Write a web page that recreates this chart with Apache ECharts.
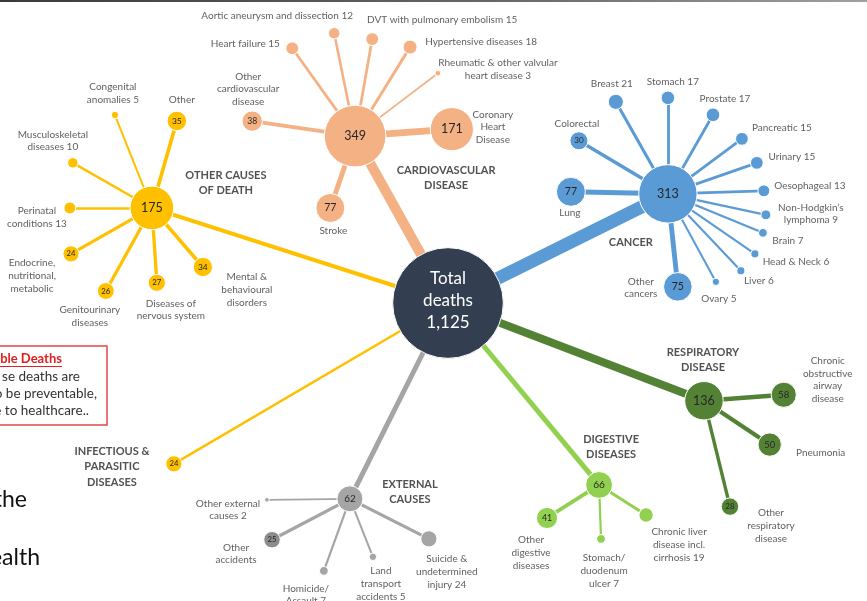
<!DOCTYPE html>
<html><head><meta charset="utf-8">
<script src="https://cdn.jsdelivr.net/npm/echarts@6/dist/echarts.min.js"></script>
<style>html,body{margin:0;padding:0;background:#fff}#c{width:867px;height:601px}</style>
</head><body><div id="c"></div>
<script>
// ================= DATA =================
const rootLabel = 'Total\ndeaths';
const totalDeaths = 1125;

const groupNames = ['CARDIOVASCULAR\nDISEASE', 'CANCER', 'OTHER CAUSES\nOF DEATH', 'INFECTIOUS &\nPARASITIC\nDISEASES', 'EXTERNAL\nCAUSES', 'DIGESTIVE\nDISEASES', 'RESPIRATORY\nDISEASE'];
const groupValues = [349, 313, 175, 24, 62, 66, 136];

const cardioNames = ['Coronary\nHeart\nDisease', 'Stroke', 'Other\ncardiovascular\ndisease', 'Heart failure', 'Aortic aneurysm and dissection', 'DVT with pulmonary embolism', 'Hypertensive diseases', 'Rheumatic & other valvular\nheart disease'];
const cardioValues = [171, 77, 38, 15, 12, 15, 18, 3];

const cancerNames = ['Colorectal', 'Lung', 'Breast', 'Stomach', 'Prostate', 'Pancreatic', 'Urinary', 'Oesophageal', 'Non-Hodgkin\u2019s\nlymphoma', 'Brain', 'Head & Neck', 'Liver', 'Ovary', 'Other\ncancers'];
const cancerValues = [30, 77, 21, 17, 17, 15, 15, 13, 9, 7, 6, 6, 5, 75];

const otherNames = ['Other', 'Congenital\nanomalies', 'Musculoskeletal\ndiseases', 'Perinatal\nconditions', 'Endocrine,\nnutritional,\nmetabolic', 'Genitourinary\ndiseases', 'Diseases of\nnervous system', 'Mental &\nbehavioural\ndisorders'];
const otherValues = [35, 5, 10, 13, 24, 26, 27, 34];

const infectiousNames = [];
const infectiousValues = [];

const externalNames = ['Other external\ncauses', 'Other\naccidents', 'Homicide/\nAssault', 'Land\ntransport\naccidents', 'Suicide &\nundetermined\ninjury'];
const externalValues = [2, 25, 7, 5, 24];

const digestiveNames = ['Other\ndigestive\ndiseases', 'Stomach/\nduodenum\nulcer', 'Chronic liver\ndisease incl.\ncirrhosis'];
const digestiveValues = [41, 7, 19];

const respiratoryNames = ['Chronic\nobstructive\nairway\ndisease', 'Pneumonia', 'Other\nrespiratory\ndisease'];
const respiratoryValues = [58, 50, 28];

// ================= LAYOUT / STYLE =================
const W = 867, H = 601;
const ROOT_POS = [448, 303];
const GROUP_COLORS = ['#F4B183', '#5B9BD5', '#FFC000', '#FFC000', '#A5A5A5', '#92D050', '#548235'];
// hub: angle (deg, ccw from east), radius (px), edge width, heading offset
const HUB_LAYOUT = [
  [119.1, 191, 10, [91, 42]],
  [26.4, 245.5, 13, [-37, 49]],
  [162.2, 311, 4, [74, -25]],
  [-149.6, 317.8, 2.5, [-62, 3]],
  [-116.6, 219, 5, [60, -7]],
  [-50.3, 236.5, 5, [12, -38]],
  [-20.9, 274, 8, [-1, -41]]
];
// child: angle, radius, label offset, value shown inside node (1) or appended to label (0), optional colour
const CHILD_LAYOUT = [
  [[4.1, 97, [41, -2], 1], [-109, 76, [3, 23], 1], [171.7, 104, [-4, -32], 1], [125.6, 108, [-47, -5], 0], [101.5, 105, [-57, -17], 0], [80, 98.5, [70, -19], 0], [58.3, 104.6, [71, -5], 0], [37.2, 104, [60, -4], 0]],
  [[149.2, 103.6, [-2, -17], 1], [178.8, 97, [-1, 21], 1], [119.5, 105.7, [-4, -18], 0], [90, 96, [5, -16], 0], [60.3, 91, [12, -16], 0], [36.6, 92.2, [40, -11], 0], [19.2, 94.2, [35, -6], 0], [1.8, 96, [46, -5], 0], [-12.1, 100.2, [45, -1], 0], [-22.3, 102.7, [25, 8], 0], [-34.6, 105.7, [41, 8], 0], [-46.5, 106, [18, 10], 0], [-61.4, 100.2, [3, 17], 0], [-83.9, 93.5, [-37, 1], 1]],
  [[74, 90.5, [5, -21], 1], [111.7, 100, [-2, -22], 0], [150.3, 91, [-20, -22], 0], [180, 82, [-33, 9], 0], [-150.4, 93, [-39, 22], 1], [-119, 95, [-16, 25], 1], [-86.2, 75, [14, 27], 1], [-49.2, 78, [44, 23], 1]],
  [],
  [[-179.3, 83, [-39, 10], 0], [-152.3, 88, [-36, 14], 1, '#8C8C8C'], [-109.9, 76.6, [-18, 24], 0], [-68.4, 62.4, [8, 27], 0], [-26.9, 88.5, [18, 33], 0]],
  [[-147.6, 61.6, [-16, 35], 1], [-87.9, 54, [3, 32], 0], [-32.6, 55.8, [33, 30], 0]],
  [[4.3, 80, [44, -15], 1], [-33.7, 79, [51, 8], 1], [-76.2, 109, [41, 19], 1]]
];
const FONT = 'Lato, "Noto Sans", sans-serif';
const TXT = '#363636';

const groupChildren = [
  [cardioNames, cardioValues],
  [cancerNames, cancerValues],
  [otherNames, otherValues],
  [infectiousNames, infectiousValues],
  [externalNames, externalValues],
  [digestiveNames, digestiveValues],
  [respiratoryNames, respiratoryValues]
];

const size = v => 3.3 * Math.sqrt(v);
const innerFont = v => Math.min(12.5, 4 + 0.75 * Math.sqrt(v));
const childEdge = v => 1 + 0.45 * Math.sqrt(v);
function polar(p, a, r) {
  const t = a * Math.PI / 180;
  return [p[0] + r * Math.cos(t), p[1] - r * Math.sin(t)];
}

const nodes = [], links = [], labels = [];
nodes.push({
  id: 'root', value: ROOT_POS, symbolSize: size(totalDeaths),
  itemStyle: { color: '#333F50', borderColor: '#ffffff', borderWidth: 1 },
  label: { show: true, position: 'inside', offset: [0, -2], formatter: rootLabel + '\n' + totalDeaths.toLocaleString('en-US'), color: '#ffffff', fontSize: 17, lineHeight: 22, fontFamily: FONT }
});

groupNames.forEach((g, gi) => {
  const hl = HUB_LAYOUT[gi];
  const hp = polar(ROOT_POS, hl[0], hl[1]);
  const col = GROUP_COLORS[gi];
  const hv = groupValues[gi];
  const hid = 'h' + gi;
  nodes.push({
    id: hid, value: hp, symbolSize: size(hv),
    itemStyle: { color: col, borderColor: '#ffffff', borderWidth: 1 },
    label: { show: true, position: 'inside', formatter: String(hv), color: '#262626', fontSize: innerFont(hv), fontFamily: FONT }
  });
  links.push({ source: 'root', target: hid, lineStyle: { color: col, width: hl[2], opacity: 1 } });
  labels.push({ value: hp, label: { offset: hl[3], formatter: g, fontWeight: 'bold', color: '#262626', fontSize: 11, lineHeight: 15.5 } });

  const [names, vals] = groupChildren[gi];
  names.forEach((n, ci) => {
    const cl = CHILD_LAYOUT[gi][ci];
    const cp = polar(hp, cl[0], cl[1]);
    const v = vals[ci];
    const cid = 'c' + gi + '_' + ci;
    const ccol = cl[4] || col;
    nodes.push({
      id: cid, value: cp, symbolSize: size(v),
      itemStyle: { color: ccol, borderColor: '#ffffff', borderWidth: 1 },
      label: { show: !!cl[3], position: 'inside', formatter: String(v), color: '#262626', fontSize: innerFont(v), fontFamily: FONT }
    });
    links.push({ source: hid, target: cid, lineStyle: { color: col, width: childEdge(v), opacity: 1 } });
    labels.push({ value: cp, label: { offset: cl[2], formatter: cl[3] ? n : n + ' ' + v, color: TXT, fontSize: 10, lineHeight: 12.8 } });
  });
});

const chart = echarts.init(document.getElementById('c'), null, { renderer: 'canvas' });
chart.setOption({
  animation: false,
  backgroundColor: '#ffffff',
  grid: { left: 0, right: 0, top: 0, bottom: 0 },
  xAxis: { type: 'value', min: 0, max: W, show: false },
  yAxis: { type: 'value', min: 0, max: H, inverse: true, show: false },
  graphic: [
    { type: 'rect', shape: { x: 0, y: 0, width: W, height: 2 }, style: { fill: new echarts.graphic.LinearGradient(0, 0, 1, 0, [{ offset: 0, color: '#3a3a3a' }, { offset: 0.6, color: '#6a6a6a' }, { offset: 1, color: '#a0a0a0' }]) }, silent: true },
    { type: 'rect', shape: { x: -10, y: 346, width: 117, height: 79 }, style: { fill: '#ffffff', stroke: '#E04848', lineWidth: 1.5 }, silent: true },
    { type: 'text', x: 62, y: 359, style: { text: 'ble Deaths', align: 'right', verticalAlign: 'middle', fill: '#E02020', font: 'bold 13px ' + FONT } },
    { type: 'rect', shape: { x: 0, y: 366, width: 62, height: 1 }, style: { fill: '#E02020' } },
    { type: 'text', x: 80, y: 377, style: { text: 'se deaths are', align: 'right', verticalAlign: 'middle', fill: '#333333', font: '13.5px ' + FONT } },
    { type: 'text', x: 97, y: 394, style: { text: 'o be preventable,', align: 'right', verticalAlign: 'middle', fill: '#333333', font: '13.5px ' + FONT } },
    { type: 'text', x: 89, y: 411, style: { text: 'e to healthcare..', align: 'right', verticalAlign: 'middle', fill: '#333333', font: '13.5px ' + FONT } },
    { type: 'text', x: 27, y: 500, style: { text: 'the', align: 'right', verticalAlign: 'middle', fill: '#111111', font: '23px ' + FONT } },
    { type: 'text', x: 40, y: 558, style: { text: 'ealth', align: 'right', verticalAlign: 'middle', fill: '#111111', font: '23px ' + FONT } }
  ],
  series: [
    {
      type: 'graph', coordinateSystem: 'cartesian2d', xAxisIndex: 0, yAxisIndex: 0,
      layout: 'none', symbol: 'circle', silent: true,
      emphasis: { disabled: true },
      lineStyle: { opacity: 1, curveness: 0 },
      data: nodes, links: links, z: 2
    },
    {
      type: 'scatter', coordinateSystem: 'cartesian2d', silent: true, z: 3,
      symbolSize: 0.1, itemStyle: { color: 'rgba(0,0,0,0)' },
      label: { show: true, position: 'inside', align: 'center', verticalAlign: 'middle', fontFamily: FONT },
      emphasis: { disabled: true },
      data: labels
    }
  ]
});
</script>
</body></html>
